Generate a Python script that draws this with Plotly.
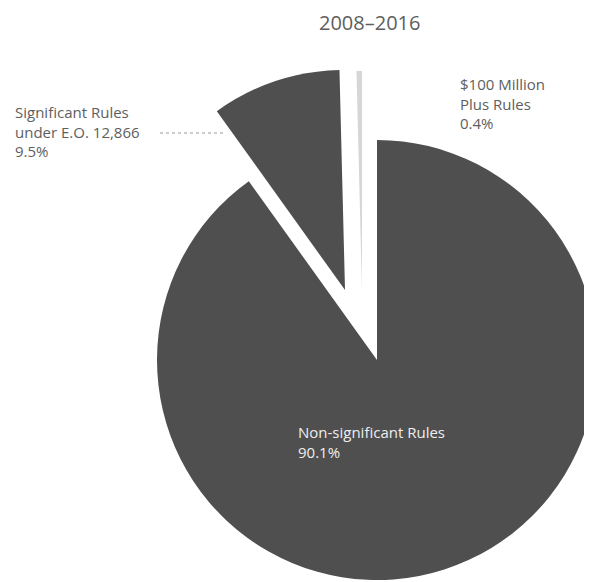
import plotly.graph_objects as go

# ---- data ----
categories = ["Non-significant Rules", "Significant Rules<br>under E.O. 12,866", "$100 Million<br>Plus Rules"]
shares = [90.1, 9.5, 0.4]
share_labels = ["90.1%", "9.5%", "0.4%"]
title_text = "2008–2016"

W, H = 592, 582
OFF = 8  # page body margin
DARK = "#4f4f4f"
LIGHT = "#d6d6d6"
TRANSP = "rgba(0,0,0,0)"
FONT = "Open Sans"
TXT = "#5e5e5e"


def px(x):
    return (x - OFF) / W


def py(y):
    return 1 - (y - OFF) / H


def dom(cx, cy, r):
    return dict(x=[px(cx - r), px(cx + r)], y=[py(cy + r), py(cy - r)])


def pie(colors, domain):
    return go.Pie(
        labels=categories, values=shares, sort=False, direction="clockwise",
        rotation=0, textinfo="none", hoverinfo="label+percent",
        marker=dict(colors=colors, line=dict(width=0)),
        domain=domain, showlegend=False,
    )


R = 220
fig = go.Figure()
fig.add_trace(pie([DARK, TRANSP, TRANSP], dom(377, 360, R)))
fig.add_trace(pie([TRANSP, DARK, TRANSP], dom(345, 290, R)))
fig.add_trace(pie([TRANSP, TRANSP, LIGHT], dom(362, 291, R)))

fig.add_annotation(text=title_text, x=px(369), y=1.0, xref="paper", yref="paper",
                   xanchor="center", yanchor="top", borderpad=0,
                   showarrow=False, font=dict(family=FONT, size=20, color=TXT))
fig.add_annotation(text=categories[0] + "<br>" + share_labels[0], x=px(296), y=py(442),
                   xref="paper", yref="paper", xanchor="left", yanchor="middle", align="left",
                   showarrow=False, font=dict(family=FONT, size=15, color="#eeeeee"))
fig.add_annotation(text=categories[1] + "<br>" + share_labels[1], x=px(13), y=py(131),
                   xref="paper", yref="paper", xanchor="left", yanchor="middle", align="left",
                   showarrow=False, font=dict(family=FONT, size=15, color=TXT))
fig.add_annotation(text=categories[2] + "<br>" + share_labels[2], x=px(458), y=py(104),
                   xref="paper", yref="paper", xanchor="left", yanchor="middle", align="left",
                   showarrow=False, font=dict(family=FONT, size=15, color=TXT))
fig.add_shape(type="line", xref="paper", yref="paper", x0=px(160), x1=px(226),
              y0=py(133), y1=py(133), line=dict(color="#999999", width=1, dash="dot"))

fig.update_layout(width=W, height=H, margin=dict(l=0, r=0, t=0, b=0),
                  paper_bgcolor="white", plot_bgcolor="white")
fig.write_html("out.html")
